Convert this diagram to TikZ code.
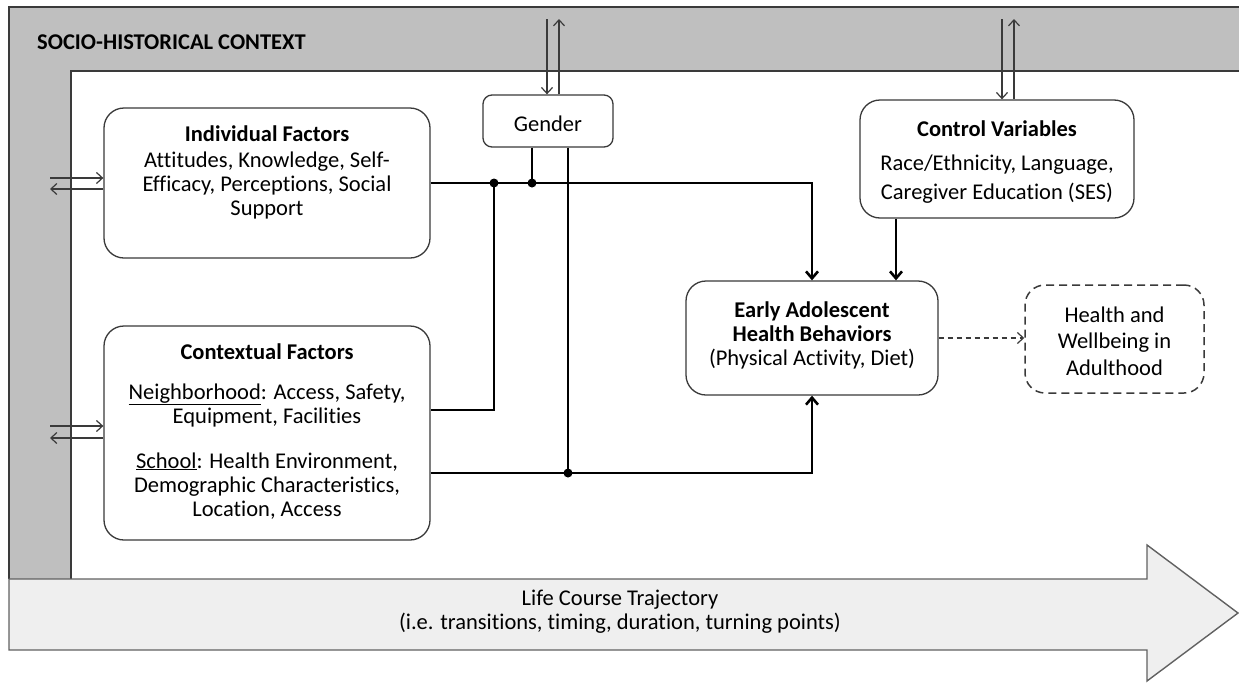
\documentclass[tikz,border=0pt]{standalone}
\usepackage{fontspec}
\setmainfont{Carlito}[Ligatures=NoCommon]
\usetikzlibrary{arrows.meta,calc}
\definecolor{framegray}{HTML}{BFBFBF}
\definecolor{bandgray}{HTML}{EFEFEF}
\definecolor{edgegray}{HTML}{3A3A3A}
\begin{document}
\begin{tikzpicture}[x=1pt,y=-1pt,
  box/.style={draw=edgegray, line width=1.3pt, rounded corners=20pt, fill=white, inner sep=0pt},
  txt/.style={font=\fontsize{22.5}{24}\selectfont, align=center, inner sep=0pt, anchor=base},
  conn/.style={line width=2.6pt, black},
  tip/.style={-{Straight Barb[length=7pt,width=12pt]}},
  link/.style={line width=1.2pt, edgegray, -{Straight Barb[length=6pt,width=11pt]}},
  dot/.style={circle, fill=black, inner sep=0pt, minimum size=9pt}]
\useasboundingbox (0,0) rectangle (1239,683);

% socio-historical frame
\fill[framegray] (9,7) rectangle (1239,579);
\fill[white] (71,71) rectangle (1239,579);
\draw[edgegray, line width=1.8pt] (1239,7) -- (9,7) -- (9,579);
\draw[edgegray, line width=1.8pt] (1239,71) -- (71,71) -- (71,579);
\node[font=\fontsize{22.5}{24}\selectfont\bfseries, anchor=base west, inner sep=0pt] (ctxLabel) at (37,49) {SOCIO-HISTORICAL CONTEXT};

% life course band (multi-line texts are placed by their last baseline)
\draw[fill=bandgray, draw=edgegray!80, line width=1.4pt]
  (9,579) -- (1147,579) -- (1147,545) -- (1238,613) -- (1147,681) -- (1147,650) -- (9,650) -- cycle;
\node[txt] (lifeText) at (620,629) {Life Course Trajectory\\(i.e. transitions, timing, duration, turning points)};

% boxes
\node[box, minimum width=326pt, minimum height=150pt] (ind) at (267,183) {};
\node[box, minimum width=326pt, minimum height=214pt] (ctx) at (267,433) {};
\node[box, rounded corners=9pt, minimum width=130pt, minimum height=52pt] (gen) at (548,121) {};
\node[box, minimum width=274pt, minimum height=118pt] (ctl) at (997,159) {};
\node[box, minimum width=252pt, minimum height=114pt] (ear) at (812,338) {};
\node[box, dash pattern=on 8pt off 5pt, line width=1.5pt, minimum width=179pt, minimum height=108pt] (hw) at (1114.5,339) {};

% box texts
\node[txt] (indTitle) at (267,141) {\textbf{Individual Factors}};
\node[txt] (indBody) at (267,215) {Attitudes, Knowledge, Self-\\Efficacy, Perceptions, Social\\Support};
\node[txt] (ctxTitle) at (267,359) {\textbf{Contextual Factors}};
\node[txt] (ctxNbh) at (267,423) {\underline{Neighborhood}: Access, Safety,\\Equipment, Facilities};
\node[txt] (ctxSch) at (267,516) {\underline{School}: Health Environment,\\Demographic Characteristics,\\Location, Access};
\node[txt] (genText) at (548,131) {Gender};
\node[txt] (ctlTitle) at (997,136) {\textbf{Control Variables}};
\node[txt] (ctlBody) at (997,199) {Race/Ethnicity, Language,\\[5pt]Caregiver Education (SES)};
\node[txt] (earText) at (812,365) {\textbf{Early Adolescent}\\\textbf{Health Behaviors}\\(Physical Activity, Diet)};
\node[txt] (hwText) at (1114.5,375) {Health and\\[2.5pt]Wellbeing in\\[2.5pt]Adulthood};

% junctions
\coordinate (jA) at (494,183);
\coordinate (jG) at (532,183);
\coordinate (jB) at (568,473);

% main connectors
\draw[conn, tip] (ind.east) -| (ear.north);
\draw[conn] (jA) |- ($(ctx.east)+(0,-23)$);
\draw[conn] ([xshift=-16pt]gen.south) -- (jG);
\draw[conn] ([xshift=20pt]gen.south) -- (jB);
\draw[conn, tip] (jB -| ctx.east) -| (ear.south);
\path ([xshift=-101pt]ctl.south) coordinate (ctlOut);
\draw[conn, tip] (ctlOut) -- (ctlOut |- ear.north);
\node[dot] (dotA) at (jA) {};
\node[dot] (dotG) at (jG) {};
\node[dot] (dotB) at (jB) {};

% outcome link
\draw[link, dash pattern=on 5pt off 4pt] (ear.east) -- (ear.east -| hw.west);

% exchanges with the wider context
\coordinate (gDn) at (547,19);
\coordinate (gUp) at (559,19);
\draw[link] (gDn) -- (gDn |- gen.north);
\draw[link] (gUp |- gen.north) -- (gUp);
\coordinate (cDn) at (1002,19);
\coordinate (cUp) at (1014,19);
\draw[link] (cDn) -- (cDn |- ctl.north);
\draw[link] (cUp |- ctl.north) -- (cUp);
\coordinate (iIn) at (50,178);
\coordinate (iOut) at (50,189);
\draw[link] (iIn) -- (iIn -| ind.west);
\draw[link] (iOut -| ind.west) -- (iOut);
\coordinate (cxIn) at (50,426);
\coordinate (cxOut) at (50,438);
\draw[link] (cxIn) -- (cxIn -| ctx.west);
\draw[link] (cxOut -| ctx.west) -- (cxOut);
\end{tikzpicture}
\end{document}
